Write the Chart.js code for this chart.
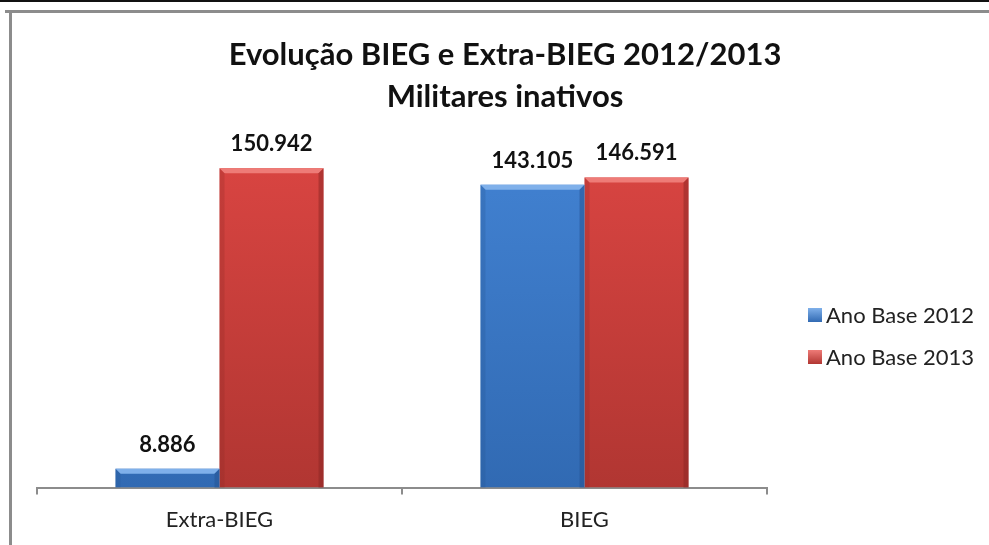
<!DOCTYPE html>
<html><head><meta charset="utf-8">
<script src="https://cdn.jsdelivr.net/npm/chart.js@4.4.1/dist/chart.umd.min.js"></script>
<style>html,body{margin:0;padding:0;background:#fff}#wrap{width:989px;height:545px}</style>
</head><body><div id="wrap"><canvas id="c" width="989" height="545"></canvas></div>
<script>
const categories = ['Extra-BIEG', 'BIEG'];
const seriesNames = ['Ano Base 2012', 'Ano Base 2013'];
const values2012 = [8886, 143105];
const values2013 = [150942, 146591];
const titleLines = ['Evolução BIEG e Extra-BIEG 2012/2013', 'Militares inativos'];

const palette = [
  {top:'#4282d2', bottom:'#316ab3', light:'#7fb0ea', dark:'#24528f'},
  {top:'#da4542', bottom:'#b13632', light:'#ee7b77', dark:'#8a2623'}
];

function fmt(v){ return String(v).replace(/\B(?=(\d{3})+(?!\d))/g, '.'); }

function grad(ctx, i){
  const ch = ctx.chart; const a = ch.chartArea;
  if(!a) return palette[i].top;
  const g = ch.ctx.createLinearGradient(0, a.top, 0, a.bottom);
  g.addColorStop(0, palette[i].top); g.addColorStop(1, palette[i].bottom);
  return g;
}

const framePlugin = {
  id:'frame',
  beforeDraw(chart){
    const c = chart.ctx; c.save();
    c.fillStyle = '#fff'; c.fillRect(0,0,chart.width,chart.height);
    c.fillStyle = '#111'; c.fillRect(0,0,chart.width,2);
    c.fillStyle = '#8c8c8c'; c.fillRect(5,10,chart.width-5,3);
    c.fillRect(9,10,3,chart.height-10);
    c.restore();
  },
  afterDraw(chart){
    const c = chart.ctx; c.save();
    c.fillStyle = '#111'; c.font = 'bold 31px Lato';
    c.textAlign = 'center'; c.textBaseline = 'middle';
    titleLines.forEach((t, i) => c.fillText(t, 505, 55 + i*42));
    c.restore();
  }
};

const bevelPlugin = {
  id:'bevel',
  afterDatasetsDraw(chart){
    const c = chart.ctx; c.save();
    chart.data.datasets.forEach((ds, di) => {
      const meta = chart.getDatasetMeta(di);
      meta.data.forEach((el, i) => {
        const w = el.width, l = el.x - w/2, r = el.x + w/2, t = el.y, b = el.base;
        const bv = Math.min(5, (b - t)/2);
        c.fillStyle = palette[di].light;
        c.beginPath(); c.moveTo(l,t); c.lineTo(r,t); c.lineTo(r-bv,t+bv); c.lineTo(l+bv,t+bv); c.closePath(); c.fill();
        c.globalAlpha = 0.5;
        c.fillStyle = palette[di].dark;
        c.beginPath(); c.moveTo(r,t); c.lineTo(r,b); c.lineTo(r-bv,b); c.lineTo(r-bv,t+bv); c.closePath(); c.fill();
        c.globalAlpha = 0.25;
        c.beginPath(); c.moveTo(l,t); c.lineTo(l+bv,t+bv); c.lineTo(l+bv,b); c.lineTo(l,b); c.closePath(); c.fill();
        c.globalAlpha = 1;
        c.fillStyle = '#111';
        c.font = 'bold 22px Lato';
        c.textAlign = 'center'; c.textBaseline = 'alphabetic';
        c.fillText(fmt(ds.data[i]), el.x, t - 17);
      });
    });
    c.restore();
  }
};

const legendPlugin = {
  id:'customLegend',
  afterDraw(chart){
    const c = chart.ctx; c.save();
    const ys = [315, 357];
    chart.data.datasets.forEach((ds, di) => {
      const y = ys[di];
      const g = c.createLinearGradient(0, y-7, 0, y+7);
      g.addColorStop(0, palette[di].light); g.addColorStop(1, palette[di].bottom);
      c.fillStyle = g; c.fillRect(808, y-7, 14, 14);
      c.fillStyle = '#222'; c.font = '22px Lato';
      c.textAlign = 'left'; c.textBaseline = 'middle';
      c.fillText(ds.label, 826, y+1);
    });
    c.restore();
  }
};

new Chart(document.getElementById('c'), {
  type:'bar',
  data:{
    labels: categories,
    datasets:[
      {label: seriesNames[0], data: values2012, backgroundColor: ctx => grad(ctx,0)},
      {label: seriesNames[1], data: values2013, backgroundColor: ctx => grad(ctx,1)}
    ]
  },
  options:{
    responsive:false, animation:false,
    devicePixelRatio:1,
    layout:{padding:{left:37, right:222, top:149, bottom:0}},
    datasets:{bar:{categoryPercentage:0.57, barPercentage:1.0}},
    plugins:{
      legend:{display:false},
      tooltip:{enabled:false},
      title:{display:false}
    },
    scales:{
      y:{display:false, min:0, max:160000},
      x:{
        grid:{display:true, drawOnChartArea:false, drawTicks:true, tickLength:7, color:'#8c8c8c', lineWidth:2, offset:true},
        border:{display:true, color:'#8c8c8c', width:2},
        ticks:{color:'#222', font:{family:'Lato', size:22}, padding:12}
      }
    }
  },
  plugins:[framePlugin, bevelPlugin, legendPlugin]
});
</script>
</body></html>
